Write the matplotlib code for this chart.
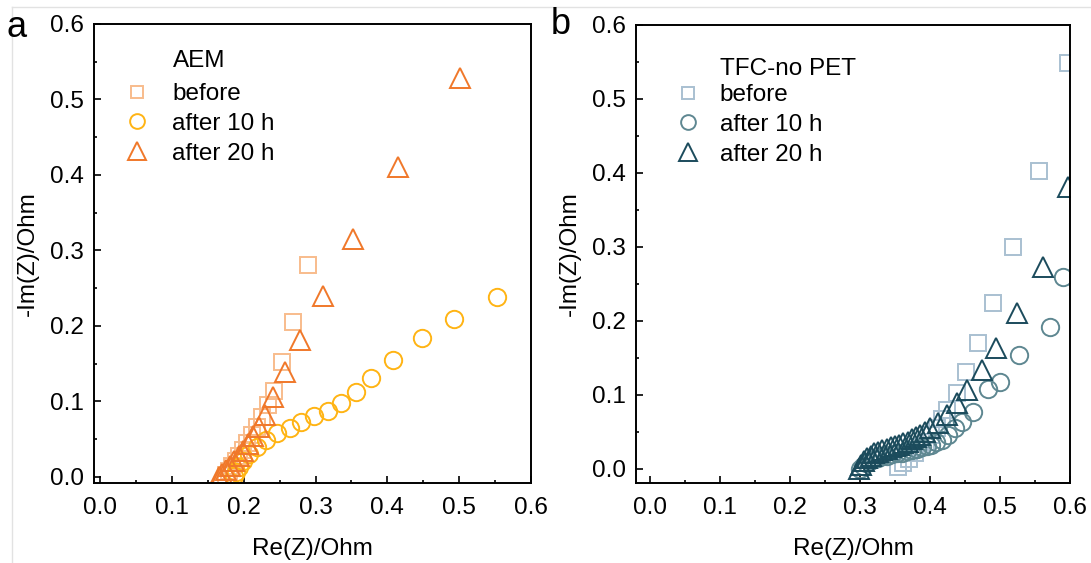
import matplotlib
matplotlib.use("Agg")
import matplotlib.pyplot as plt
from matplotlib.lines import Line2D
from matplotlib.ticker import MultipleLocator

plt.rcParams['font.family'] = ['Liberation Sans', 'DejaVu Sans']

# panel a: AEM
a_before_x = [0.176, 0.180, 0.184, 0.189, 0.194, 0.199, 0.205, 0.211, 0.218, 0.226, 0.234, 0.242, 0.253, 0.268, 0.290]
a_before_y = [0.002, 0.008, 0.014, 0.021, 0.028, 0.036, 0.045, 0.055, 0.066, 0.080, 0.095, 0.114, 0.152, 0.205, 0.281]
a_10h_x = [0.187, 0.189, 0.194, 0.199, 0.208, 0.219, 0.231, 0.247, 0.265, 0.280, 0.298, 0.318, 0.336, 0.357, 0.377, 0.408, 0.448, 0.493, 0.553]
a_10h_y = [0.001, 0.007, 0.013, 0.021, 0.030, 0.040, 0.049, 0.058, 0.065, 0.073, 0.081, 0.087, 0.098, 0.113, 0.131, 0.155, 0.184, 0.209, 0.238]
a_20h_x = [0.165, 0.170, 0.175, 0.181, 0.187, 0.193, 0.199, 0.206, 0.213, 0.221, 0.230, 0.241, 0.258, 0.279, 0.311, 0.352, 0.415, 0.501]
a_20h_y = [0.000, 0.004, 0.009, 0.015, 0.021, 0.028, 0.035, 0.044, 0.054, 0.066, 0.082, 0.106, 0.139, 0.181, 0.240, 0.315, 0.411, 0.528]

# panel b: TFC-no PET
b_before_x = [0.354, 0.362, 0.370, 0.378, 0.386, 0.394, 0.402, 0.410, 0.417, 0.424, 0.438, 0.451, 0.469, 0.490, 0.519, 0.556, 0.597]
b_before_y = [0.003, 0.008, 0.014, 0.021, 0.029, 0.037, 0.046, 0.056, 0.068, 0.080, 0.103, 0.131, 0.170, 0.224, 0.300, 0.403, 0.549]
b_10h_x = [0.300, 0.304, 0.309, 0.314, 0.320, 0.326, 0.332, 0.339, 0.346, 0.353, 0.360, 0.367, 0.374, 0.381,
           0.388, 0.395, 0.402, 0.409, 0.417, 0.426, 0.436, 0.446, 0.461, 0.483, 0.500, 0.527, 0.571, 0.590]
b_10h_y = [0.000, 0.004, 0.008, 0.011, 0.013, 0.015, 0.017, 0.018, 0.020, 0.021, 0.022, 0.024, 0.025, 0.027,
           0.029, 0.031, 0.033, 0.036, 0.039, 0.046, 0.055, 0.064, 0.077, 0.108, 0.118, 0.154, 0.192, 0.259]
b_20h_x = [0.298, 0.302, 0.306, 0.310, 0.315, 0.320, 0.326, 0.332, 0.338, 0.344, 0.350, 0.356, 0.362, 0.368,
           0.374, 0.380, 0.386, 0.393, 0.400, 0.411, 0.424, 0.438, 0.453, 0.474, 0.494, 0.524, 0.561, 0.597]
b_20h_y = [0.000, 0.006, 0.011, 0.015, 0.018, 0.021, 0.023, 0.025, 0.027, 0.029, 0.031, 0.033, 0.035, 0.037,
           0.040, 0.043, 0.046, 0.050, 0.055, 0.062, 0.073, 0.089, 0.107, 0.134, 0.164, 0.211, 0.273, 0.381]

labels = ['before', 'after 10 h', 'after 20 h']
markers = ['s', 'o', '^']
sizes = [11, 12.5, 15]
a_colors = ['#F8BC8C', '#FFB414', '#F0782A']
b_colors = ['#A9C0D1', '#5E8791', '#1B4B5C']

FS = 17.5


def style_axes(ax, xlim, ylim):
    ax.set_xlim(*xlim)
    ax.set_ylim(*ylim)
    ax.xaxis.set_major_locator(MultipleLocator(0.1))
    ax.yaxis.set_major_locator(MultipleLocator(0.1))
    ax.xaxis.set_minor_locator(MultipleLocator(0.05))
    ax.yaxis.set_minor_locator(MultipleLocator(0.05))
    ax.xaxis.set_major_formatter(plt.FuncFormatter(lambda v, p: f"{v:.1f}"))
    ax.yaxis.set_major_formatter(plt.FuncFormatter(lambda v, p: f"{v:.1f}"))
    ax.tick_params(which='both', direction='in', top=False, right=False, width=1.2, labelsize=FS)
    ax.tick_params(which='major', length=5)
    ax.tick_params(which='minor', length=2.5)
    ax.tick_params(axis='x', which='major', pad=10)
    ax.tick_params(axis='y', which='major', pad=7)
    for s in ax.spines.values():
        s.set_linewidth(1.4)
    ax.set_xlabel("Re(Z)/Ohm", fontsize=FS, labelpad=14)
    ax.set_ylabel("-Im(Z)/Ohm", fontsize=FS, labelpad=8)


def draw_panel(ax, xs, ys, colors, title, xlim, ylim, leg_x, text_pad, title_y):
    for x, y, m, ms, c, lab in zip(xs, ys, markers, sizes, colors, labels):
        ax.plot(x, y, linestyle='none', marker=m, ms=ms, mfc='none', mec=c, mew=1.4, label=lab)
    style_axes(ax, xlim, ylim)
    ax.legend(loc='upper left', bbox_to_anchor=(leg_x, 0.871), frameon=False, fontsize=FS,
              handlelength=1.0, handletextpad=text_pad, labelspacing=0.32, borderpad=0,
              borderaxespad=0, markerscale=0.85)
    ax.text(leg_x + (1.0 + text_pad) * FS * 100 / 72 / ax.bbox.width, title_y, title,
            transform=ax.transAxes, fontsize=FS, va='center', ha='left')


fig = plt.figure(figsize=(10.91, 5.63), dpi=100)
ax_a = fig.add_axes([0.0862, 0.1421, 0.4005, 0.8153])
ax_b = fig.add_axes([0.5830, 0.1421, 0.3978, 0.8135])

draw_panel(ax_a, [a_before_x, a_10h_x, a_20h_x], [a_before_y, a_10h_y, a_20h_y],
           a_colors, "AEM", (-0.0084, 0.6), (-0.008, 0.6), 0.071, 0.95, 0.92)
draw_panel(ax_b, [b_before_x, b_10h_x, b_20h_x], [b_before_y, b_10h_y, b_20h_y],
           b_colors, "TFC-no PET", (-0.02, 0.6), (-0.019, 0.6), 0.092, 0.8, 0.905)

fig.text(6 / 1091, 1 - 37 / 563, "a", fontsize=26, va='baseline', ha='left')
fig.text(551 / 1091, 1 - 34 / 563, "b", fontsize=26, va='baseline', ha='left')

# thin grey frame lines of the original figure
fig.add_artist(Line2D([12 / 1091, 12 / 1091], [0, 1 - 7 / 563], color='#E2E2E2', lw=1, transform=fig.transFigure))
fig.add_artist(Line2D([12 / 1091, 1], [1 - 7 / 563, 1 - 7 / 563], color='#E2E2E2', lw=1, transform=fig.transFigure))

fig.savefig("out.png", dpi=100)
